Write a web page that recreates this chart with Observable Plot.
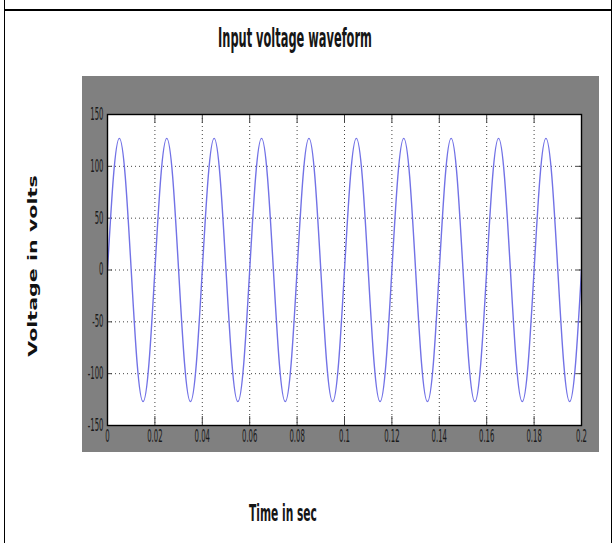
<!DOCTYPE html>
<html>
<head>
<meta charset="utf-8">
<script src="https://cdn.jsdelivr.net/npm/d3@7"></script>
<script src="https://cdn.jsdelivr.net/npm/@observablehq/plot@0.6"></script>
<style>
  body { margin: 0; background: #fff; }
  #wrap { position: relative; width: 616px; height: 543px; overflow: hidden; background: #fff; }
  .abs { position: absolute; }
  .cond { font-family: "Liberation Sans Narrow", "DejaVu Sans Condensed", sans-serif; font-weight: bold; color: #161616; white-space: nowrap; line-height: 1; }
</style>
</head>
<body>
<div id="wrap">
  <div class="abs" style="left:4px;top:0;width:1px;height:543px;background:#000"></div>
  <div class="abs" style="left:611px;top:0;width:1px;height:543px;background:#000"></div>
  <div class="abs" style="left:4px;top:9px;width:608px;height:2px;background:#000"></div>
  <div class="abs" style="left:82px;top:76px;width:517px;height:376px;background:#808080"></div>
  <div id="chart" class="abs" style="left:0;top:0"></div>
  <div id="title" class="abs cond" style="left:295px;top:25px;font-size:26px"></div>
  <div id="xlabel" class="abs cond" style="left:283px;top:502px;font-size:23px"></div>
  <div id="ylabel" class="abs" style="left:33px;top:266px;font-family:'DejaVu Sans',sans-serif;font-weight:bold;font-size:12px;line-height:1;color:#111;white-space:nowrap"></div>
</div>
<script>
const titleText = "Input voltage waveform";
const xLabelText = "Time in sec";
const yLabelText = "Voltage in volts";

const xTicks = [0, 0.02, 0.04, 0.06, 0.08, 0.1, 0.12, 0.14, 0.16, 0.18, 0.2];
const xTickLabels = ["0", "0.02", "0.04", "0.06", "0.08", "0.1", "0.12", "0.14", "0.16", "0.18", "0.2"];
const yTicks = [-150, -100, -50, 0, 50, 100, 150];
const yTickLabels = ["-150", "-100", "-50", "0", "50", "100", "150"];

// time samples (s)
const times = [
  0, 0.0025, 0.005, 0.0075, 0.01, 0.0125, 0.015, 0.0175,
  0.02, 0.0225, 0.025, 0.0275, 0.03, 0.0325, 0.035, 0.0375,
  0.04, 0.0425, 0.045, 0.0475, 0.05, 0.0525, 0.055, 0.0575,
  0.06, 0.0625, 0.065, 0.0675, 0.07, 0.0725, 0.075, 0.0775,
  0.08, 0.0825, 0.085, 0.0875, 0.09, 0.0925, 0.095, 0.0975,
  0.1, 0.1025, 0.105, 0.1075, 0.11, 0.1125, 0.115, 0.1175,
  0.12, 0.1225, 0.125, 0.1275, 0.13, 0.1325, 0.135, 0.1375,
  0.14, 0.1425, 0.145, 0.1475, 0.15, 0.1525, 0.155, 0.1575,
  0.16, 0.1625, 0.165, 0.1675, 0.17, 0.1725, 0.175, 0.1775,
  0.18, 0.1825, 0.185, 0.1875, 0.19, 0.1925, 0.195, 0.1975,
  0.2
];
// voltage (V)
const volts = [
  0, 90, 127, 90, 0, -90, -127, -90,
  0, 90, 127, 90, 0, -90, -127, -90,
  0, 90, 127, 90, 0, -90, -127, -90,
  0, 90, 127, 90, 0, -90, -127, -90,
  0, 90, 127, 90, 0, -90, -127, -90,
  0, 90, 127, 90, 0, -90, -127, -90,
  0, 90, 127, 90, 0, -90, -127, -90,
  0, 90, 127, 90, 0, -90, -127, -90,
  0, 90, 127, 90, 0, -90, -127, -90,
  0, 90, 127, 90, 0, -90, -127, -90,
  0
];

const data = times.map((t, i) => ({t, v: volts[i]}));

const W = 616, H = 543, mt = 114, mb = 118, ml = 107, mr = 35;
const innerH = H - mt - mb, innerW = W - ml - mr;
const xTickLen = 9, yTickLen = 5;

const plot = Plot.plot({
  width: W, height: H,
  marginTop: mt, marginBottom: mb, marginLeft: ml, marginRight: mr,
  style: {background: "transparent", fontFamily: "'Liberation Sans Narrow','DejaVu Sans Condensed',sans-serif", fontSize: "12px", color: "#1a1a1a"},
  x: {domain: [0, 0.2]},
  y: {domain: [-150, 150]},
  marks: [
    Plot.frame({fill: "white"}),
    Plot.ruleX(xTicks, {stroke: "#444", strokeDasharray: "1,3", strokeWidth: 1}),
    Plot.ruleY(yTicks, {stroke: "#444", strokeDasharray: "1,3", strokeWidth: 1}),
    Plot.ruleX(xTicks, {insetTop: innerH - xTickLen, stroke: "#444"}),
    Plot.ruleX(xTicks, {insetBottom: innerH - xTickLen, stroke: "#444"}),
    Plot.ruleY(yTicks, {insetRight: innerW - yTickLen, stroke: "#444"}),
    Plot.ruleY(yTicks, {insetLeft: innerW - yTickLen, stroke: "#444"}),
    Plot.line(data, {x: "t", y: "v", curve: "natural", stroke: "#7272e6", strokeWidth: 1.4}),
    Plot.frame({stroke: "#000", strokeWidth: 1.4}),
    Plot.axisX(xTicks, {tickSize: 0, tickPadding: 5, tickFormat: (d, i) => xTickLabels[i], label: null}),
    Plot.axisY(yTicks, {tickSize: 0, tickPadding: 4, tickFormat: (d, i) => yTickLabels[i], label: null})
  ]
});

d3.select(plot).selectAll("g[aria-label='x-axis tick label'] text, g[aria-label='y-axis tick label'] text")
  .attr("transform", function() { return (this.getAttribute("transform") || "") + " scale(0.64,1.4)"; });

document.getElementById("chart").appendChild(plot);

function fit(id, text, targetWidth, rotate) {
  const el = document.getElementById(id);
  el.textContent = text;
  const s = targetWidth / el.offsetWidth;
  el.style.transform = rotate
    ? `translate(-50%,-50%) rotate(-90deg) scaleX(${s})`
    : `translateX(-50%) scaleX(${s})`;
}
fit("title", titleText, 154, false);
fit("xlabel", xLabelText, 68, false);
fit("ylabel", yLabelText, 182, true);
</script>
</body>
</html>
